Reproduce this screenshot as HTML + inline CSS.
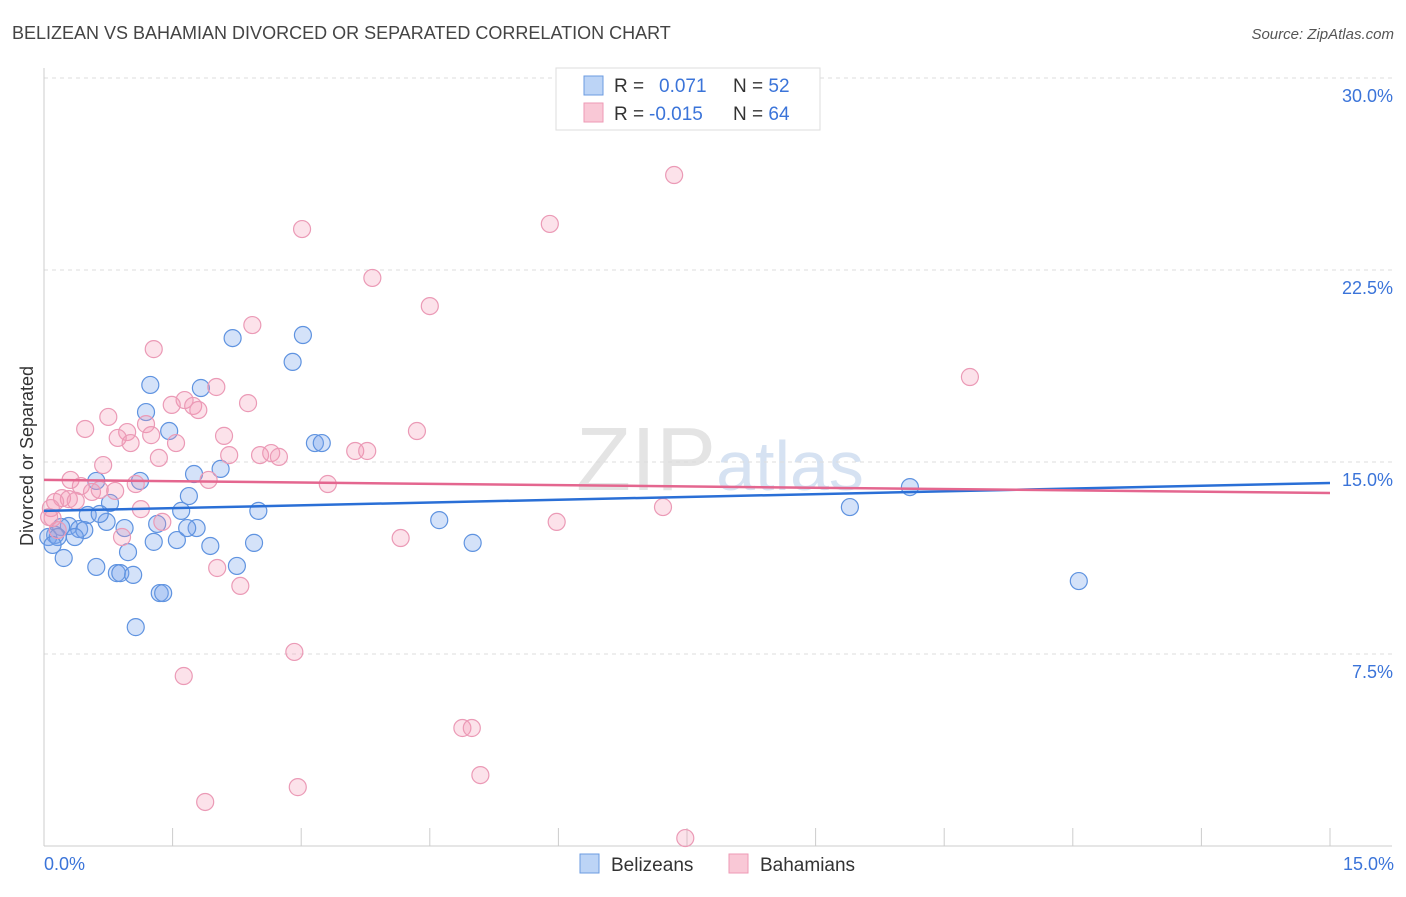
<!DOCTYPE html>
<html><head><meta charset="utf-8"><style>
body{margin:0;background:#fff;font-family:"Liberation Sans",sans-serif}
svg text{font-family:"Liberation Sans",sans-serif}
</style></head><body>
<svg id="chart" width="1406" height="892" xmlns="http://www.w3.org/2000/svg">
<text x="12" y="39" font-size="18" fill="#444">BELIZEAN VS BAHAMIAN DIVORCED OR SEPARATED CORRELATION CHART</text>
<text x="1394" y="39" font-size="15" fill="#555" text-anchor="end" font-style="italic">Source: ZipAtlas.com</text>
<text x="720" y="490" font-size="90" fill="#e4e4e4" text-anchor="middle" font-family="Liberation Serif">ZIP<tspan fill="#d6e2f2" font-family="Liberation Sans" font-size="70">atlas</tspan></text>
<g id="grid"></g>
<line x1="44" y1="68" x2="44" y2="846" stroke="#ccc"/>
<line x1="44" y1="846" x2="1392" y2="846" stroke="#ccc"/>
<g id="xticks"></g>
<text transform="translate(33,456) rotate(-90)" font-size="18" fill="#333" text-anchor="middle">Divorced or Separated</text>
<text x="44" y="870" font-size="18" fill="#3b74d9">0.0%</text>
<text x="1394" y="870" font-size="18" fill="#3b74d9" text-anchor="end">15.0%</text>
<g id="points"></g>
<g id="trends"></g>
<g>
<rect x="556" y="68" width="264" height="62" fill="#fff" stroke="#ddd"/>
<rect x="584" y="76" width="19" height="19" fill="#bcd4f6" stroke="#6b9be0"/>
<rect x="584" y="103" width="19" height="19" fill="#f9c8d6" stroke="#ee9ab5"/>
<text x="614" y="92" font-size="19" fill="#333">R = <tspan fill="#3b74d9" x="659">0.071</tspan><tspan x="733" fill="#333">N = </tspan><tspan fill="#3b74d9">52</tspan></text>
<text x="614" y="120" font-size="19" fill="#333">R = <tspan fill="#3b74d9" x="649">-0.015</tspan><tspan x="733" fill="#333">N = </tspan><tspan fill="#3b74d9">64</tspan></text>
</g>
<g>
<rect x="580" y="854" width="19" height="19" fill="#bcd4f6" stroke="#6b9be0"/>
<text x="611" y="871" font-size="19" fill="#333">Belizeans</text>
<rect x="729" y="854" width="19" height="19" fill="#f9c8d6" stroke="#ee9ab5"/>
<text x="760" y="871" font-size="19" fill="#333">Bahamians</text>
</g>
</svg>
<script>
const yTicks=[7.5,15,22.5,30];
const yTickLabels=["7.5%","15.0%","22.5%","30.0%"];
const xTickValues=[1.5,3,4.5,6,7.5,9,10.5,12,13.5,15];
const blueX=[2.20,3.02,2.90,1.24,1.83,1.19,1.46,3.16,3.24,1.75,2.06,0.61,1.12,1.69,0.77,1.60,2.50,0.51,0.94,0.29,0.20,0.41,0.47,0.73,1.32,1.78,0.13,0.05,0.16,0.36,1.28,1.55,1.94,2.45,0.98,0.23,0.61,0.85,0.89,1.04,2.25,1.35,1.39,1.07,4.61,5.00,9.40,10.10,12.07,0.10,0.65,1.67];
const blueY=[19.84,19.96,18.91,18.01,17.89,16.95,16.21,15.74,15.74,14.53,14.73,14.26,14.26,13.67,13.40,13.09,13.09,12.93,12.42,12.50,12.46,12.38,12.34,12.66,12.58,12.42,12.15,12.07,12.07,12.07,11.88,11.95,11.72,11.84,11.48,11.25,10.90,10.66,10.66,10.59,10.94,9.88,9.88,8.55,12.73,11.84,13.24,14.02,10.35,11.76,12.97,12.42];
const pinkX=[7.35,3.01,5.90,3.83,4.50,2.43,1.28,10.80,2.01,2.38,1.64,1.49,1.74,1.80,0.75,0.48,0.97,1.19,1.25,0.86,1.01,1.54,2.10,4.35,3.63,3.77,2.16,2.52,2.65,2.74,1.34,0.69,0.31,0.43,1.07,1.92,3.31,0.83,0.56,0.21,0.29,0.13,0.37,0.08,1.13,7.22,1.38,5.98,0.06,0.10,0.91,4.16,2.02,2.29,2.92,1.63,4.88,4.99,5.09,2.96,1.88,7.48,0.65,0.16];
const pinkY=[26.21,24.10,24.30,22.19,21.09,20.35,19.41,18.32,17.93,17.30,17.42,17.23,17.19,17.03,16.76,16.29,16.17,16.48,16.05,15.94,15.74,15.74,16.02,16.21,15.43,15.43,15.27,15.27,15.35,15.20,15.16,14.88,14.30,14.06,14.14,14.30,14.14,13.87,13.83,13.59,13.55,13.44,13.48,13.20,13.16,13.24,12.66,12.66,12.85,12.81,12.07,12.03,10.86,10.16,7.58,6.64,4.61,4.61,2.77,2.30,1.72,0.31,13.91,12.34];
const blueTrend=[13.09,14.18];
const pinkTrend=[14.30,13.79];
const NS="http://www.w3.org/2000/svg";
const sx=v=>44+v/15*1286;
const sy=v=>846-v/7.5*192;
function mk(tag,attrs,parent){const e=document.createElementNS(NS,tag);for(const k in attrs)e.setAttribute(k,attrs[k]);parent.appendChild(e);return e;}
const grid=document.getElementById('grid');
yTicks.forEach((t,i)=>{
 const l=mk('line',{x1:44,x2:1392,y1:sy(t),y2:sy(t),stroke:'#ddd','stroke-dasharray':'4,4'},grid);
 
 
 const tx=mk('text',{x:1393,y:sy(t)+24,'font-size':18,fill:'#3b74d9','text-anchor':'end'},grid);
 tx.textContent=yTickLabels[i];
 
 
});
const xt=document.getElementById('xticks');
xTickValues.forEach(v=>{
 const l=mk('line',{x1:sx(v),x2:sx(v),y1:828,y2:846,stroke:'#ccc'},xt);
 
 
});
const pts=document.getElementById('points');
blueX.forEach((x,i)=>{
 const c=mk('circle',{cx:sx(x),cy:sy(blueY[i]),r:8.5,fill:'rgba(120,165,235,0.32)',stroke:'#5f93e0','stroke-width':1.2},pts);
 
 
});
pinkX.forEach((x,i)=>{
 const c=mk('circle',{cx:sx(x),cy:sy(pinkY[i]),r:8.5,fill:'rgba(245,150,180,0.28)',stroke:'#eb9ab6','stroke-width':1.2},pts);
 
 
});
const tr=document.getElementById('trends');
const b=mk('line',{x1:sx(0),x2:sx(15),y1:sy(blueTrend[0]),y2:sy(blueTrend[1]),stroke:'#2a6fd6','stroke-width':2.5},tr);


const p=mk('line',{x1:sx(0),x2:sx(15),y1:sy(pinkTrend[0]),y2:sy(pinkTrend[1]),stroke:'#e4668f','stroke-width':2.5},tr);


</script>
</body></html>
